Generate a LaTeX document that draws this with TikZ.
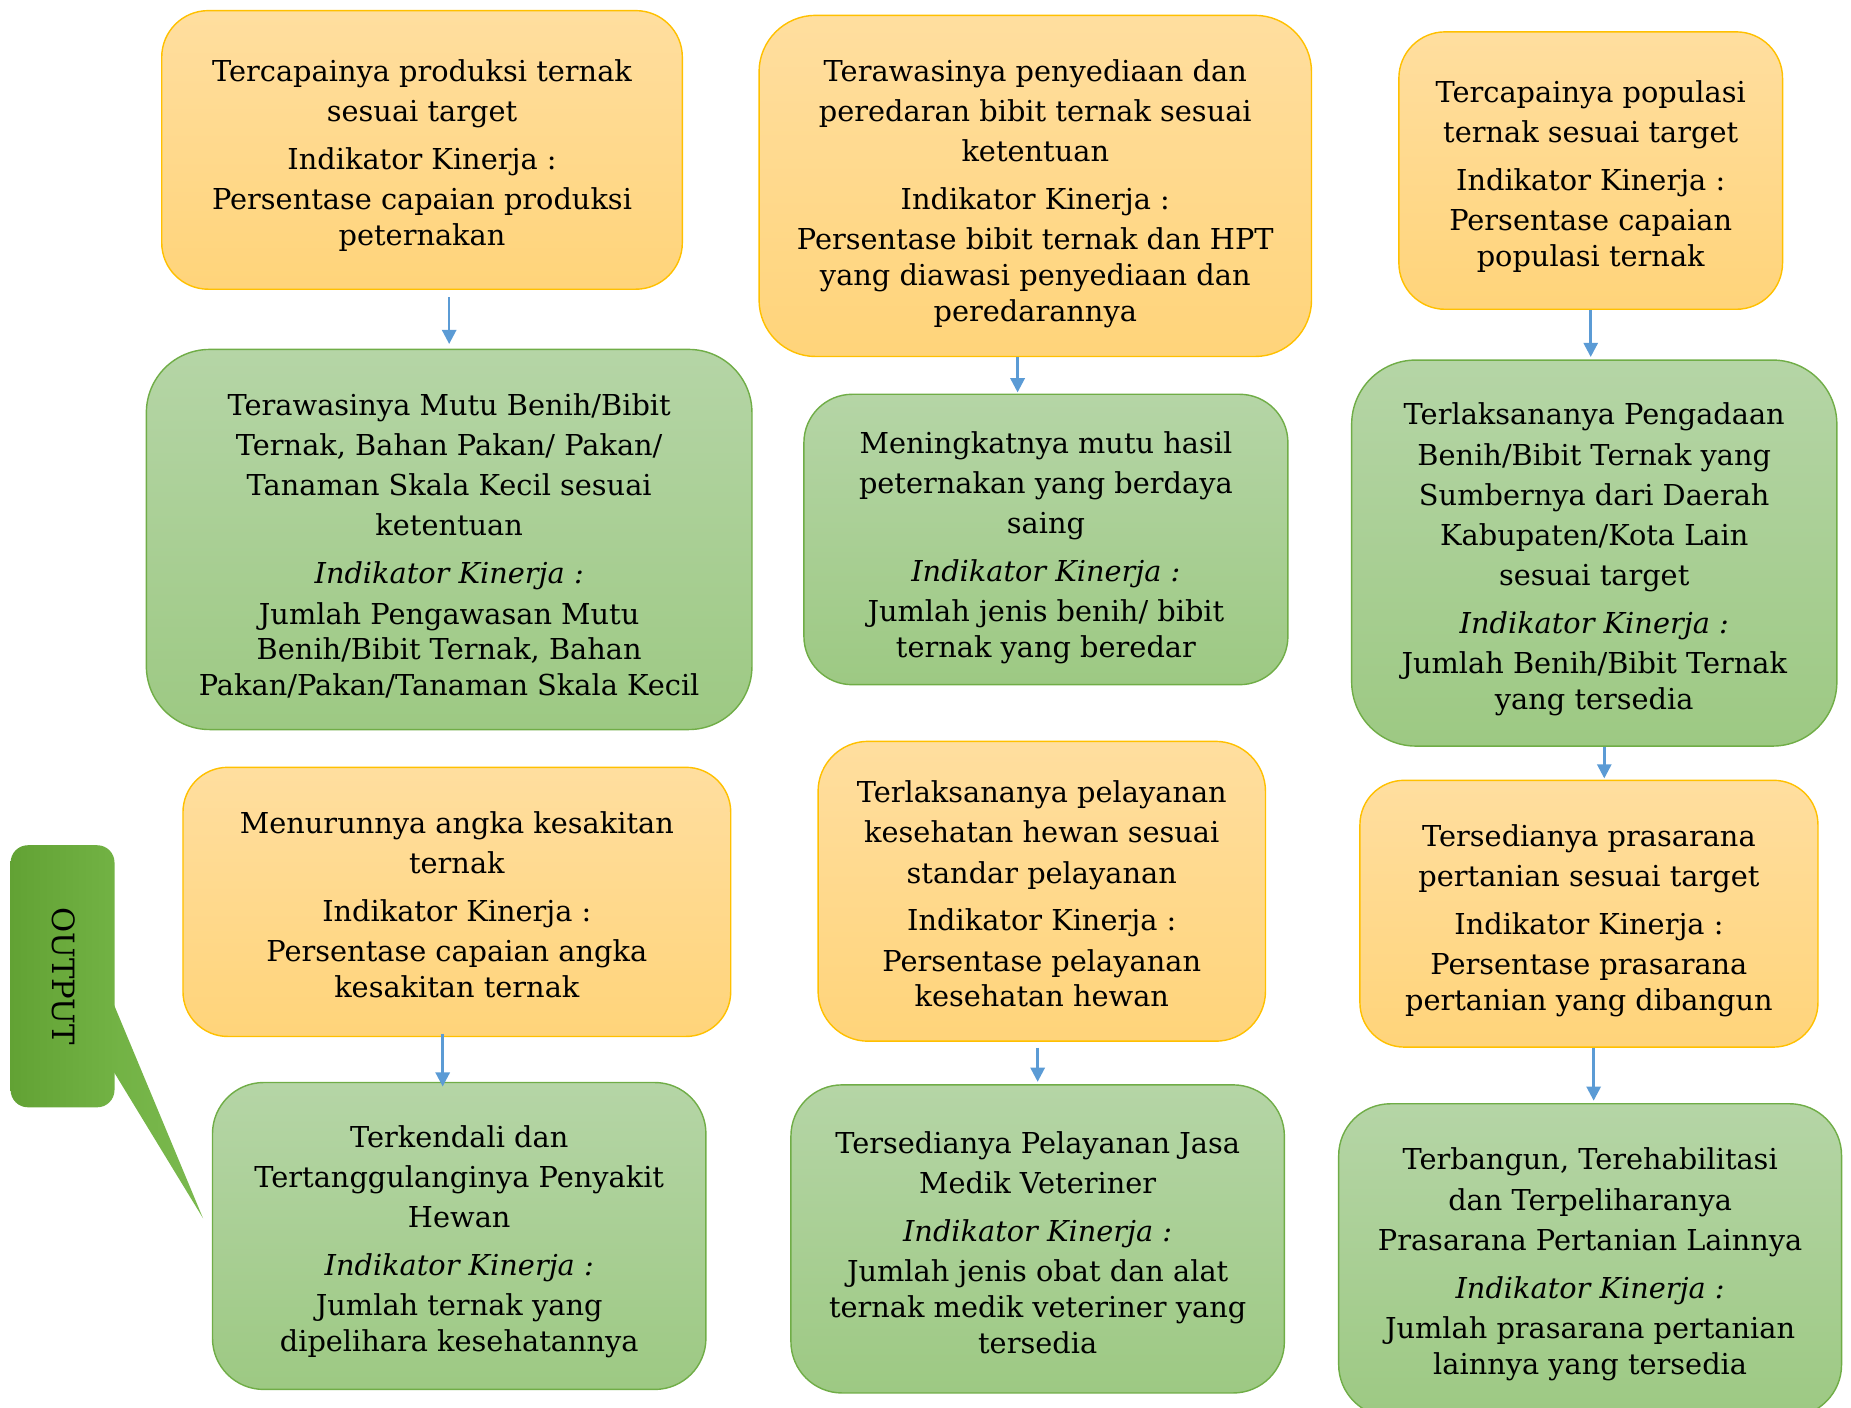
\documentclass[tikz,border=0pt]{standalone}
\usepackage{fontspec}
\setmainfont{DejaVu Serif}
\usetikzlibrary{arrows.meta}
\definecolor{otop}{HTML}{FFDE9F}
\definecolor{obot}{HTML}{FFD47A}
\definecolor{oline}{HTML}{FFC000}
\definecolor{gtop}{HTML}{B5D5A6}
\definecolor{gbot}{HTML}{9DC983}
\definecolor{gline}{HTML}{70AD47}
\definecolor{odark}{HTML}{62A234}
\definecolor{olight}{HTML}{72B244}
\definecolor{wlight}{HTML}{7BB94F}
\definecolor{arrc}{HTML}{5B9BD5}
\tikzset{
 obox/.style={draw=oline, line width=0.6pt, top color=otop, bottom color=obot, rectangle, inner sep=0pt},
 gbox/.style={draw=gline, line width=0.6pt, top color=gtop, bottom color=gbot, rectangle, inner sep=0pt},
 outbox/.style={draw=none, left color=odark, right color=olight, rectangle, inner sep=0pt},
 txt/.style={inner sep=0pt, anchor=base, font=\fontsize{12.2pt}{17pt}\selectfont},
 arr/.style={draw=arrc, line width=1.1pt, -{Triangle[width=6pt,length=6pt]}},
}
\newcommand\bx[7]{\node[#1, minimum width=#5pt, minimum height=#6pt, rounded corners=#7pt] (#2) at (#3,#4) {};}
\newcommand\gapp{\noalign{\vskip 3.3pt}}
\newcommand\tgt{\noalign{\vskip -1.8pt}}
\newcommand\blk[1]{\vtop{\halign{\hfil##\hfil\cr#1\crcr}}}
\newcommand\ik{\itshape Indikator Kinerja :}
\begin{document}
\begin{tikzpicture}[x=0.5pt,y=-0.5pt]
\useasboundingbox (0,0) rectangle (1568,1192.7);
% boxes
\bx{obox}{b1}{357.5}{127}{220.5}{118}{19.7}
\bx{obox}{b2}{877}{157.5}{234}{144.5}{24}
\bx{obox}{b3}{1347.5}{144.5}{162.5}{117.5}{19.6}
\bx{gbox}{b4}{380.5}{457}{256.5}{161}{26.8}
\bx{gbox}{b5}{886}{457}{205}{123}{20.5}
\bx{gbox}{b6}{1350.5}{468.5}{205.5}{163.5}{27.2}
\bx{obox}{b7}{387}{764}{232}{114}{19}
\bx{obox}{b8}{882.5}{755}{189.5}{127}{21.2}
\bx{obox}{b9}{1346}{774}{194}{113}{18.8}
\bx{gbox}{b10}{389}{1047}{209}{130}{21.7}
\bx{gbox}{b11}{879}{1049.5}{209}{130.5}{21.7}
\bx{gbox}{b12}{1347}{1067.5}{213}{132.5}{22}
% texts
\node[txt] (t1) at (357.5,69) {\blk{Tercapainya produksi ternak\cr sesuai target\cr\gapp Indikator Kinerja :\cr Persentase capaian produksi\cr\tgt peternakan}};
\node[txt] (t2) at (877,69) {\blk{Terawasinya penyediaan dan\cr peredaran bibit ternak sesuai\cr ketentuan\cr\gapp Indikator Kinerja :\cr Persentase bibit ternak dan HPT\cr\tgt yang diawasi penyediaan dan\cr\tgt peredarannya}};
\node[txt] (t3) at (1347.5,87) {\blk{Tercapainya populasi\cr ternak sesuai target\cr\gapp Indikator Kinerja :\cr Persentase capaian\cr\tgt populasi ternak}};
\node[txt] (t4) at (380.5,352) {\blk{Terawasinya Mutu Benih/Bibit\cr Ternak, Bahan Pakan/ Pakan/\cr Tanaman Skala Kecil sesuai\cr ketentuan\cr\gapp \ik\cr Jumlah Pengawasan Mutu\cr\tgt Benih/Bibit Ternak, Bahan\cr\tgt Pakan/Pakan/Tanaman Skala Kecil}};
\node[txt] (t5) at (886,384) {\blk{Meningkatnya mutu hasil\cr peternakan yang berdaya\cr saing\cr\gapp \ik\cr Jumlah jenis benih/ bibit\cr\tgt ternak yang beredar}};
\node[txt] (t6) at (1350.5,360) {\blk{Terlaksananya Pengadaan\cr Benih/Bibit Ternak yang\cr Sumbernya dari Daerah\cr Kabupaten/Kota Lain\cr sesuai target\cr\gapp \ik\cr Jumlah Benih/Bibit Ternak\cr\tgt yang tersedia}};
\node[txt] (t7) at (387,706) {\blk{Menurunnya angka kesakitan\cr ternak\cr\gapp Indikator Kinerja :\cr Persentase capaian angka\cr\tgt kesakitan ternak}};
\node[txt] (t8) at (882.5,680) {\blk{Terlaksananya pelayanan\cr kesehatan hewan sesuai\cr standar pelayanan\cr\gapp Indikator Kinerja :\cr Persentase pelayanan\cr\tgt kesehatan hewan}};
\node[txt] (t9) at (1346,717) {\blk{Tersedianya prasarana\cr pertanian sesuai target\cr\gapp Indikator Kinerja :\cr Persentase prasarana\cr\tgt pertanian yang dibangun}};
\node[txt] (t10) at (389,972) {\blk{Terkendali dan\cr Tertanggulanginya Penyakit\cr Hewan\cr\gapp \ik\cr Jumlah ternak yang\cr\tgt dipelihara kesehatannya}};
\node[txt] (t11) at (879,977) {\blk{Tersedianya Pelayanan Jasa\cr Medik Veteriner\cr\gapp \ik\cr Jumlah jenis obat dan alat\cr\tgt ternak medik veteriner yang\cr\tgt tersedia}};
\node[txt] (t12) at (1347,991) {\blk{Terbangun, Terehabilitasi\cr dan Terpeliharanya\cr Prasarana Pertanian Lainnya\cr\gapp \ik\cr Jumlah prasarana pertanian\cr\tgt lainnya yang tersedia}};
% arrows
\draw[arr, shorten <=3pt, shorten >=2pt] (b1.south -| b4.north) -- (b4.north);
\draw[arr, shorten >=0.5pt] ([xshift=-7.5pt]b2.south) -- ([xshift=-12pt]b5.north);
\draw[arr, shorten >=1pt] (b3.south) -- (b3.south |- b6.north);
\draw[arr, shorten >=0.5pt] ([xshift=4.25pt]b6.south) -- ([xshift=6.5pt]b9.north);
\draw[arr, shorten <=-1.5pt, shorten >=-2pt] ([xshift=-6pt]b7.south) -- ([xshift=-7pt]b10.north);
\draw[arr, shorten <=2.5pt, shorten >=1pt] (b8.south -| b11.north) -- (b11.north);
\draw[arr, shorten >=1pt] ([xshift=2pt]b9.south) -- ([xshift=1.5pt]b12.north);
% OUTPUT callout
\shade[left color=olight, right color=wlight] (94,845) -- (172,1032) -- (94,904) -- cycle;
\node[outbox, minimum width=44pt, minimum height=111pt, rounded corners=7.3pt] (out) at (53,827) {};
\node[rotate=-90, inner sep=0pt, font=\fontsize{13pt}{15pt}\selectfont] (outt) at (54,827) {OUTPUT};
\end{tikzpicture}
\end{document}
